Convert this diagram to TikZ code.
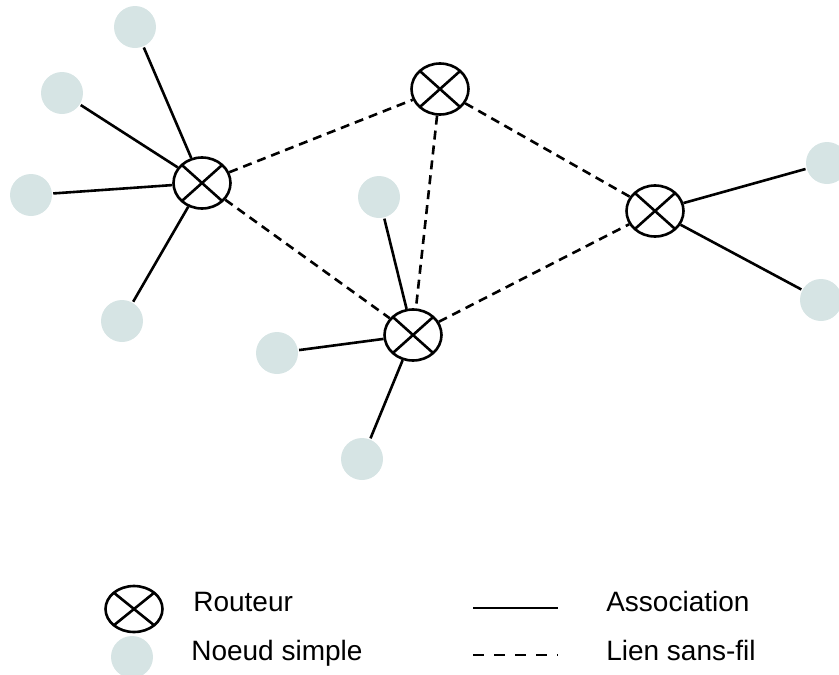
\documentclass[tikz,border=0pt]{standalone}
\usepackage{fontspec}
\setmainfont{Liberation Sans}
\usetikzlibrary{shapes.geometric}

\definecolor{nodegray}{RGB}{214,228,228}

\begin{document}
\begin{tikzpicture}[x=1pt,y=-1pt,line width=2.6pt,
  routeur/.style={ellipse, draw, inner sep=0pt, minimum width=57pt, minimum height=51pt,
    path picture={\draw (path picture bounding box.north west) -- (path picture bounding box.south east)
      (path picture bounding box.south west) -- (path picture bounding box.north east);}},
  simple/.style={circle, fill=nodegray, inner sep=0pt, minimum size=42pt},
  assoc/.style={solid},
  sansfil/.style={dash pattern=on 9pt off 6pt},
  legende/.style={anchor=base west, inner sep=0pt, font=\fontsize{28}{33}\selectfont}]
\useasboundingbox (0,0) rectangle (839,675);
% routeurs
\node[routeur] (r1) at (202,183) {};
\node[routeur] (r2) at (440,89) {};
\node[routeur] (r3) at (655,211) {};
\node[routeur] (r4) at (413,335) {};
% noeuds simples
\node[simple] (n1) at (135,27) {};
\node[simple] (n2) at (62,93) {};
\node[simple] (n3) at (31,195) {};
\node[simple] (n4) at (122,321) {};
\node[simple] (n5) at (827,163) {};
\node[simple] (n6) at (821,300) {};
\node[simple] (n7) at (379,197) {};
\node[simple] (n8) at (277,353) {};
\node[simple] (n9) at (362,459) {};
% associations
\path[assoc] (r1) edge (n1);
\path[assoc] (r1) edge (n2);
\path[assoc] (r1) edge (n3);
\path[assoc] (r1) edge (n4);
\path[assoc] (r3) edge (n5);
\path[assoc] (r3) edge (n6);
\path[assoc] (r4) edge (n7);
\path[assoc] (r4) edge (n8);
\path[assoc] (r4) edge (n9);
% liens sans-fil
\path[sansfil] (r1) edge (r2);
\path[sansfil] (r1) edge (r4);
\path[sansfil] (r2) edge (r4);
\path[sansfil] (r2) edge (r3);
\path[sansfil] (r4) edge (r3);
% legende
\node[routeur, minimum height=46pt] (lr) at (134,609) {};
\node[simple] (ln) at (132,657) {};
\node[legende] (tr) at (192,611) {Routeur};
\node[legende] (tn) at (190,660) {Noeud simple};
\coordinate (la1) at (473,608);
\coordinate (la2) at (558,608);
\coordinate (ls1) at (473,655);
\coordinate (ls2) at (558,655);
\draw[assoc] (la1) -- (la2);
\draw[sansfil, dash pattern=on 11pt off 10pt] (ls1) -- (ls2);
\node[legende] (ta) at (605,611) {Association};
\node[legende] (ts) at (605,660) {Lien sans-fil};
\end{tikzpicture}
\end{document}
